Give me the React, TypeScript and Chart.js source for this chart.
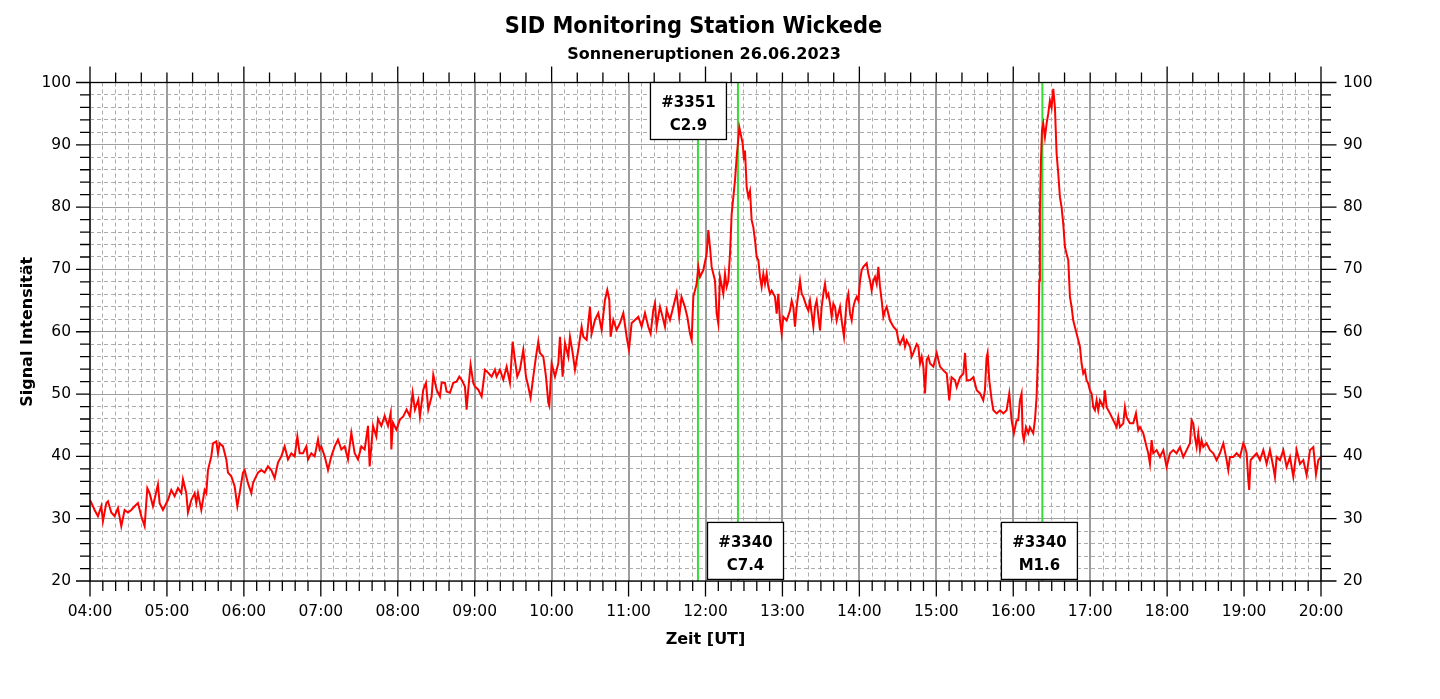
import React, { useEffect, useRef } from "react";
import { Chart, registerables } from "chart.js";

Chart.register(...registerables);

// ---------- texts ----------
const chartTitle = "SID Monitoring Station Wickede";
const chartSubtitle = "Sonneneruptionen 26.06.2023";
const xAxisTitle = "Zeit [UT]";
const yAxisTitle = "Signal Intensität";

// ---------- axes (x in minutes after 04:00 UT) ----------
const startHour = 4;
const xMin = 0;
const xMax = 960;
const xMinorStep = 10;
const xMajorStep = 60;
const topMinorStep = 20;
const topMajorStep = 120;
const yMin = 20;
const yMax = 100;
const yMinorStep = 2;
const yMajorStep = 10;

// ---------- signal: [minutes after 04:00, intensity] ----------
const signal0408: number[][] = [
  [0, 33.0], [3.6, 31.4], [6.2, 30.4], [8.8, 32.0], [10.1, 29.6], [12.7, 32.5], [14.0, 32.8], [16.6, 31.0], [19.2, 30.4], [21.8, 31.7],
  [24.4, 28.8], [27.0, 31.4], [29.6, 31.0], [32.2, 31.4], [34.8, 32.0], [37.4, 32.5], [40.0, 30.4], [42.6, 28.8], [44.7, 34.9], [46.5, 34.1],
  [49.1, 32.0], [53.0, 35.5], [54.3, 32.5], [56.9, 31.4], [59.5, 32.5],
  [60.8, 33.0], [63.4, 34.6], [66.0, 33.6], [68.6, 34.9], [71.2, 34.1], [72.5, 36.3], [75.1, 34.1], [76.4, 31.0], [79.0, 33.0], [81.6, 34.1],
  [82.9, 32.5], [84.2, 34.1], [86.8, 31.4], [89.4, 34.6], [90.7, 34.1], [92.0, 37.8], [94.6, 40.0], [95.9, 42.1], [98.5, 42.4], [99.8, 40.5],
  [101.1, 42.1], [103.7, 41.6], [106.3, 39.5], [107.6, 37.4], [110.2, 36.8], [112.8, 35.2], [114.9, 32.0], [116.7, 34.1], [119.3, 37.4],
  [120.6, 37.8], [123.2, 35.7], [125.8, 34.1], [127.1, 35.7], [128.4, 36.3], [131.0, 37.4], [133.6, 37.8], [136.2, 37.4], [138.8, 38.4], [141.4, 37.8],
  [144.0, 36.5], [146.6, 39.0], [149.2, 40.0], [151.8, 41.6], [154.4, 39.5], [157.0, 40.5], [159.6, 40.0], [161.7, 43.2], [163.5, 40.5], [166.1, 40.5],
  [168.7, 41.6], [170.0, 39.5], [172.6, 40.5], [175.2, 40.0], [177.8, 42.7], [179.1, 41.1],
  [180.4, 41.6], [183.0, 40.0], [185.6, 37.8], [188.2, 40.0], [190.8, 41.6], [193.4, 42.7], [196.0, 41.1], [198.6, 41.6], [201.2, 39.5], [203.8, 43.8],
  [206.4, 40.5], [209.0, 39.5], [211.6, 41.6], [214.2, 41.1], [216.8, 44.9], [218.1, 38.4], [219.4, 41.6], [220.7, 44.9], [223.3, 43.2], [224.6, 46.0],
  [227.2, 44.9], [229.8, 46.5], [232.4, 44.9], [234.5, 47.0], [235.0, 41.1], [236.3, 45.4], [238.9, 44.3],
];

const signal0812: number[][] = [
  [241.7, 45.9], [244.3, 46.4], [246.9, 47.5], [249.5, 46.4], [251.6, 50.2], [253.4, 47.5], [256.0, 49.1], [257.3, 46.4], [259.9, 50.7], [262.0, 51.8],
  [263.8, 47.5], [266.4, 49.6], [267.7, 53.1], [270.3, 50.7], [272.9, 49.6], [274.2, 51.8], [276.8, 51.8], [278.1, 50.4], [280.7, 50.2], [283.3, 51.8],
  [285.9, 52.0], [288.0, 52.8], [289.8, 52.3], [292.4, 51.2], [293.7, 47.5], [295.0, 50.7], [296.8, 54.7], [298.9, 51.8],
  [300.2, 51.2], [302.8, 50.7], [305.4, 49.6], [308.0, 53.9], [310.6, 53.4], [313.2, 52.8], [315.8, 53.9], [317.1, 52.8], [319.7, 53.9], [322.3, 52.3],
  [324.9, 54.4], [327.5, 51.8], [329.6, 58.4], [331.4, 55.5], [333.2, 52.8], [335.3, 53.9], [337.9, 57.1], [340.0, 52.8], [341.8, 51.2], [343.6, 49.4],
  [345.7, 52.8], [347.8, 56.0], [349.6, 58.4], [350.9, 56.6], [353.5, 56.0], [355.6, 52.8], [357.4, 48.6], [358.2, 48.1],
  [360.0, 54.9], [362.6, 52.8], [365.2, 54.9], [366.5, 59.2], [368.6, 52.8], [370.4, 58.2], [373.0, 56.0], [374.3, 59.2], [376.4, 56.6], [378.2, 53.9],
  [380.8, 57.1], [383.4, 60.8], [384.7, 59.2], [387.3, 58.7], [389.9, 64.0], [391.2, 59.7], [393.8, 61.9], [396.4, 63.0], [399.0, 60.3], [401.6, 65.1],
  [403.4, 66.7], [405.0, 65.1], [406.0, 59.2], [408.1, 61.9], [410.7, 60.3], [413.3, 61.4], [415.9, 63.0], [418.5, 59.2],
  [420.3, 57.1], [422.4, 61.4], [425.0, 61.9], [427.6, 62.4], [430.2, 60.8], [432.8, 63.0], [435.4, 60.8], [437.2, 59.7], [439.3, 63.5], [440.6, 64.6],
  [441.9, 60.8], [444.5, 64.0], [446.5, 62.4], [448.4, 60.8], [449.7, 63.5], [452.3, 61.9], [454.9, 64.0], [457.5, 66.2], [459.5, 62.4], [461.3, 65.6],
  [463.9, 64.0], [465.8, 62.4], [467.9, 59.7], [469.2, 58.7], [470.5, 65.6], [473.1, 67.7], [474.4, 70.4], [475.7, 68.8], [478.3, 69.9],
];

const signal1216: number[][] = [
  [480.9, 72.5], [482.2, 76.3], [483.5, 73.6], [484.8, 70.4], [486.1, 69.3], [487.4, 68.2], [488.7, 62.9], [490.0, 61.3], [491.3, 68.8], [493.9, 66.1],
  [495.2, 69.3], [496.5, 67.2], [497.8, 68.2], [499.1, 72.5], [500.4, 78.9], [501.7, 81.6], [503.0, 84.3], [504.3, 88.0], [506.4, 92.8], [507.4, 91.8],
  [509.0, 90.2], [510.0, 87.5], [510.8, 89.1], [512.1, 83.2], [513.4, 81.6], [514.7, 82.6], [516.0, 77.9], [517.3, 76.8], [518.6, 74.7], [519.9, 72.0],
  [521.2, 71.5], [522.5, 68.8], [523.8, 67.2], [525.1, 69.3], [526.4, 67.7], [527.7, 69.3], [529.0, 67.2], [530.3, 66.1], [531.6, 66.6], [534.2, 65.6],
  [535.5, 62.9], [536.8, 66.1], [538.1, 61.8], [539.4, 59.7],
  [540.7, 62.4], [543.3, 61.8], [545.9, 63.4], [547.2, 65.0], [548.5, 64.0], [549.8, 60.8], [551.1, 64.0], [552.4, 66.1], [553.7, 68.2], [555.0, 66.1],
  [556.3, 65.6], [558.9, 64.0], [560.2, 63.4], [561.5, 65.0], [562.8, 62.9], [564.1, 60.8], [565.4, 64.0], [566.7, 65.0], [569.3, 60.2], [570.6, 64.0],
  [571.9, 66.1], [573.2, 67.7], [574.5, 65.6], [575.8, 66.1], [577.1, 64.5], [578.4, 62.4], [579.7, 64.5], [581.0, 64.0], [582.3, 61.8], [583.6, 62.9],
  [584.9, 64.0], [586.2, 61.8], [588.0, 59.2], [590.1, 65.0], [591.4, 66.1], [592.7, 62.9], [594.0, 61.8], [595.3, 64.0], [596.6, 65.0], [597.9, 65.6],
  [599.2, 65.0],
  [600.5, 68.2], [601.8, 69.9], [603.1, 70.4], [605.7, 71.0], [607.0, 69.3], [608.3, 68.2], [609.6, 66.6], [610.9, 68.2], [612.2, 68.8], [613.5, 67.7],
  [614.8, 70.4], [616.1, 67.2], [617.4, 65.0], [618.7, 62.4], [620.0, 63.4], [621.3, 64.0], [622.6, 62.9], [623.9, 61.8], [626.5, 60.8], [629.1, 60.2],
  [630.4, 58.6], [631.7, 58.0], [634.3, 59.2], [635.6, 57.6], [636.9, 58.6], [639.5, 57.6], [640.8, 56.0], [642.1, 56.6], [644.7, 58.0], [646.0, 57.6],
  [647.3, 54.9], [648.6, 56.0], [649.9, 54.4], [651.2, 50.1], [652.5, 55.5], [653.8, 56.0], [655.1, 54.9], [657.7, 54.4],
  [660.3, 56.6], [661.6, 55.5], [662.9, 54.4], [665.5, 53.8], [668.1, 53.3], [670.1, 49.0], [671.9, 52.7], [674.6, 52.2], [675.9, 51.1], [678.5, 52.7],
  [681.1, 53.3], [682.4, 56.6], [683.7, 52.2], [686.3, 52.2], [688.9, 52.7], [691.5, 50.6], [694.1, 50.1], [696.6, 49.0], [697.9, 50.6], [699.2, 55.9],
  [700.0, 56.6], [701.3, 52.2], [703.2, 49.0], [704.5, 47.4], [707.1, 46.9], [709.7, 47.4], [712.3, 46.9], [714.8, 47.4], [716.9, 50.1], [718.7, 45.8],
];

const signal1620: number[][] = [
  [720.5, 43.7], [722.6, 45.8], [723.9, 45.8], [725.2, 49.0], [726.5, 50.1], [727.3, 43.7], [728.3, 42.6], [729.9, 44.7], [731.7, 43.7], [733.0, 44.7],
  [734.3, 44.2], [735.6, 43.7], [736.9, 45.8], [738.2, 49.5], [739.5, 57.6], [740.3, 68.2], [740.8, 79.5], [741.6, 87.5], [742.4, 92.3], [743.4, 93.4],
  [744.7, 91.2], [746.0, 93.4], [747.3, 95.0], [748.6, 97.1], [749.9, 96.0], [751.2, 99.0], [752.5, 96.0], [753.8, 88.6], [755.1, 85.4], [756.4, 81.6],
  [757.7, 80.0], [759.0, 77.3], [760.3, 73.6], [761.6, 72.5], [762.9, 71.5], [764.2, 65.6], [765.5, 64.0], [766.8, 61.8], [769.4, 59.7], [772.0, 57.6],
  [773.3, 54.9], [774.6, 53.3], [775.9, 53.8], [777.2, 52.2], [778.5, 51.7],
  [779.8, 50.6], [781.1, 50.1], [782.4, 47.9], [783.7, 47.4], [785.0, 49.0], [786.3, 47.4], [787.6, 49.0], [790.2, 47.9], [791.5, 50.6], [792.8, 47.9],
  [795.4, 46.9], [798.0, 45.8], [800.6, 44.7], [801.9, 46.3], [803.2, 44.7], [805.8, 45.3], [807.1, 47.9], [808.4, 46.3], [809.7, 45.8], [811.0, 45.3],
  [813.6, 45.3], [815.7, 46.9], [817.5, 44.2], [818.8, 44.7], [821.4, 43.7], [822.7, 42.6], [824.0, 41.5], [825.3, 40.5], [826.6, 38.8], [827.9, 42.6],
  [829.2, 40.5], [831.8, 41.0], [834.4, 39.9], [837.0, 41.0],
  [839.6, 38.3], [842.2, 40.5], [844.8, 41.0], [847.4, 40.5], [850.0, 41.5], [852.6, 39.9], [855.2, 41.0], [857.8, 42.1], [859.1, 45.8], [860.4, 45.3],
  [861.7, 43.1], [863.0, 41.5], [864.3, 43.7], [865.6, 41.0], [866.9, 42.6], [868.2, 41.5], [870.8, 42.1], [873.4, 41.0], [876.0, 40.5], [878.6, 39.4],
  [881.2, 40.5], [883.8, 42.1], [886.4, 39.4], [887.7, 37.8], [889.0, 39.9], [891.6, 39.9], [894.2, 40.5], [896.8, 39.9],
  [899.4, 42.1], [900.7, 41.5], [902.0, 40.5], [903.3, 36.2], [904.0, 34.6], [905.1, 39.4], [907.2, 39.9], [909.8, 40.5], [912.4, 39.4], [915.0, 41.0],
  [917.6, 38.8], [920.2, 41.0], [922.8, 38.3], [924.1, 36.7], [925.4, 39.9], [928.0, 39.4], [930.6, 41.0], [933.2, 38.3], [935.8, 39.9], [938.4, 36.7],
  [941.0, 41.0], [943.6, 38.8], [946.2, 39.4], [948.8, 37.0], [951.4, 41.0], [954.0, 41.5], [956.1, 37.1], [957.9, 39.4], [960.0, 39.9],
];

// ---------- flare markers ----------
const flareLineMinutes = [474.1, 505.3, 742.7];
const flareIds = ["#3351", "#3340", "#3340"];
const flareClasses = ["C2.9", "C7.4", "M1.6"];
const flareBoxCenterMinutes = [466.7, 511.2, 740.4];
const flareBoxTopValues = [100, 29.4, 29.4];

const FONT = "'DejaVu Sans', Verdana, sans-serif";

function hourLabel(v: number): string {
  const h = startHour + v / 60;
  return String(h).padStart(2, "0") + ":00";
}

const framePlugin = {
  id: "sidFrame",
  afterDatasetsDraw(chart: any) {
    const { ctx, chartArea: a, scales } = chart;
    const xs = scales.x;
    const ys = scales.y;
    ctx.save();
    ctx.strokeStyle = "#000";
    ctx.lineWidth = 1.3;
    ctx.strokeRect(a.left, a.top, a.right - a.left, a.bottom - a.top);

    ctx.beginPath();
    for (let m = xMin; m <= xMax; m += xMinorStep) {
      const px = xs.getPixelForValue(m);
      const len = m % xMajorStep === 0 ? 15.5 : 10;
      ctx.moveTo(px, a.bottom);
      ctx.lineTo(px, a.bottom + len);
    }
    for (let m = xMin; m <= xMax; m += topMinorStep) {
      const px = xs.getPixelForValue(m);
      const len = m % topMajorStep === 0 ? 16 : 10;
      ctx.moveTo(px, a.top);
      ctx.lineTo(px, a.top - len);
    }
    for (let v = yMin; v <= yMax; v += yMinorStep) {
      const py = ys.getPixelForValue(v);
      const major = v % yMajorStep === 0;
      ctx.moveTo(a.left, py);
      ctx.lineTo(a.left - (major ? 14 : 10), py);
      ctx.moveTo(a.right, py);
      ctx.lineTo(a.right + (major ? 15.5 : 10), py);
    }
    ctx.stroke();

    // flare boxes
    const bw = 76;
    const bh = 57;
    ctx.font = "bold 15px " + FONT;
    ctx.textAlign = "center";
    ctx.textBaseline = "alphabetic";
    for (let i = 0; i < flareIds.length; i++) {
      const cx = xs.getPixelForValue(flareBoxCenterMinutes[i]);
      const top = ys.getPixelForValue(flareBoxTopValues[i]);
      const left = cx - bw / 2;
      ctx.fillStyle = "#fff";
      ctx.fillRect(left, top, bw, bh);
      ctx.strokeStyle = "#000";
      ctx.lineWidth = 1.3;
      ctx.strokeRect(left, top, bw, bh);
      ctx.fillStyle = "#000";
      ctx.fillText(flareIds[i], cx, top + 24.5);
      ctx.fillText(flareClasses[i], cx, top + 47.5);
    }

    // titles
    const mid = (a.left + a.right) / 2;
    ctx.fillStyle = "#000";
    ctx.textAlign = "center";
    ctx.save();
    ctx.translate(mid - 12, 32.5);
    ctx.scale(1, 1.12);
    ctx.font = "bold 21px " + FONT;
    ctx.fillText(chartTitle, 0, 0);
    ctx.restore();
    ctx.font = "bold 16px " + FONT;
    ctx.fillText(chartSubtitle, mid - 1.5, 59);
    ctx.fillText(xAxisTitle, mid, 644);
    ctx.save();
    ctx.translate(28, (a.top + a.bottom) / 2);
    ctx.rotate(-Math.PI / 2);
    ctx.textBaseline = "middle";
    ctx.fillText(yAxisTitle, 0, 0);
    ctx.restore();
    ctx.restore();
  },
};

const tickFont = { family: FONT, size: 15.5 };

function isMajorX(ctx: any) {
  return ctx && ctx.tick && ctx.tick.value % xMajorStep === 0;
}
function isMajorY(ctx: any) {
  return ctx && ctx.tick && ctx.tick.value % yMajorStep === 0;
}

export default function App() {
  const canvasRef = useRef<HTMLCanvasElement | null>(null);

  useEffect(() => {
    if (!canvasRef.current) return;
    const toPoints = (arr: number[][]) => arr.map((p) => ({ x: p[0], y: p[1] }));
    const signal = [
      ...toPoints(signal0408),
      ...toPoints(signal0812),
      ...toPoints(signal1216),
      ...toPoints(signal1620),
    ];
    const flareSets = flareLineMinutes.map((m) => ({
      data: [
        { x: m, y: yMin },
        { x: m, y: yMax },
      ],
      borderColor: "#33dd33",
      borderWidth: 2,
      pointRadius: 0,
      tension: 0,
    }));

    const chart = new Chart(canvasRef.current, {
      type: "line",
      data: {
        datasets: [
          {
            data: signal,
            borderColor: "#ff0000",
            borderWidth: 2,
            pointRadius: 0,
            tension: 0,
          },
          ...flareSets,
        ],
      } as any,
      options: {
        animation: false,
        responsive: true,
        maintainAspectRatio: false,
        layout: { padding: { top: 82.5, left: 0, right: 0, bottom: 0 } },
        plugins: {
          legend: { display: false },
          tooltip: { enabled: false },
          title: { display: false },
        },
        events: [],
        scales: {
          x: {
            type: "linear",
            position: "bottom",
            min: xMin,
            max: xMax,
            ticks: {
              stepSize: xMinorStep,
              autoSkip: false,
              maxRotation: 0,
              minRotation: 0,
              padding: 22,
              color: "#000",
              font: tickFont,
              callback: (v: any) => (Number(v) % xMajorStep === 0 ? hourLabel(Number(v)) : ""),
            },
            grid: {
              drawTicks: false,
              color: (c: any) => (isMajorX(c) ? "#9c9c9c" : "#ababab"),
              lineWidth: (c: any) => (isMajorX(c) ? 2 : 1),
            },
            border: {
              display: false,
              dash: (c: any) => (isMajorX(c) ? [] : [4, 3]),
            },
            afterFit: (s: any) => {
              s.height = 118;
            },
          },
          y: {
            type: "linear",
            position: "left",
            min: yMin,
            max: yMax,
            ticks: {
              stepSize: yMinorStep,
              autoSkip: false,
              padding: 19,
              color: "#000",
              font: tickFont,
              callback: (v: any) => (Number(v) % yMajorStep === 0 ? String(v) : ""),
            },
            grid: {
              drawTicks: false,
              color: (c: any) => (isMajorY(c) ? "#a0a0a0" : "#ababab"),
              lineWidth: 1,
            },
            border: {
              display: false,
              dash: (c: any) => (isMajorY(c) ? [] : [4, 3]),
            },
            afterFit: (s: any) => {
              s.width = 90;
            },
          },
          y2: {
            type: "linear",
            position: "right",
            min: yMin,
            max: yMax,
            ticks: {
              stepSize: yMinorStep,
              autoSkip: false,
              padding: 22,
              color: "#000",
              font: tickFont,
              callback: (v: any) => (Number(v) % yMajorStep === 0 ? String(v) : ""),
            },
            grid: { display: true, drawOnChartArea: false, drawTicks: false },
            border: { display: false },
            afterFit: (s: any) => {
              s.width = 119;
            },
          },
        },
      } as any,
      plugins: [framePlugin],
    });
    return () => chart.destroy();
  }, []);

  return (
    <div
      style={{
        position: "fixed",
        left: 0,
        top: 0,
        width: 1440,
        height: 699,
        background: "#fff",
      }}
    >
      <canvas ref={canvasRef} />
    </div>
  );
}
